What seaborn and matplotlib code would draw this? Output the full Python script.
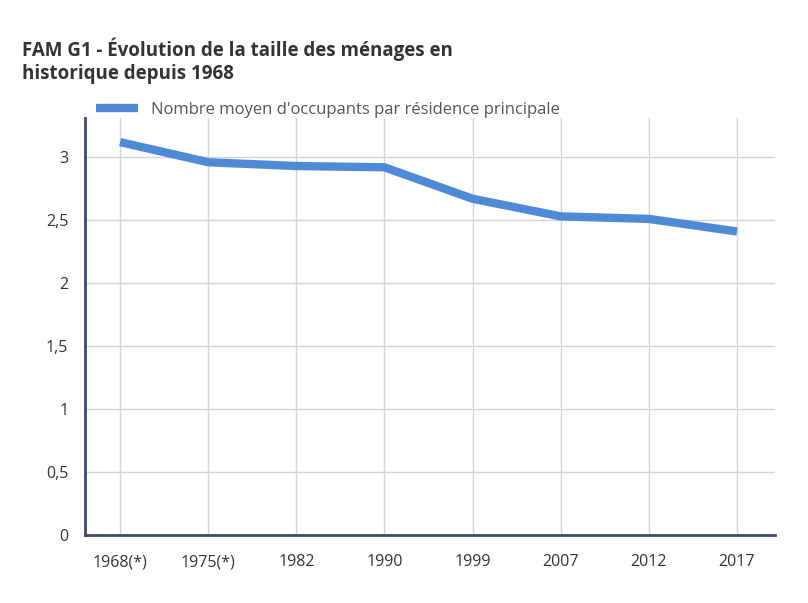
import matplotlib.pyplot as plt
import pandas as pd
import seaborn as sns

# =========================================================
# DATA
# =========================================================

years = ["1968(*)", "1975(*)", "1982", "1990", "1999", "2007", "2012", "2017"]
occupants = [3.12, 2.96, 2.93, 2.92, 2.67, 2.53, 2.51, 2.41]
y_ticks = [0, 0.5, 1, 1.5, 2, 2.5, 3]
y_tick_labels = ["0", "0,5", "1", "1,5", "2", "2,5", "3"]

series_name = "Nombre moyen d'occupants par résidence principale"
title = "FAM G1 - Évolution de la taille des ménages en\nhistorique depuis 1968"

df = pd.DataFrame({"annee": years, "occupants": occupants})

# =========================================================
# STYLE
# =========================================================

sns.set_theme(style="white")
plt.rcParams["font.family"] = ["Open Sans", "DejaVu Sans"]

line_color = "#4e8ad6"
axis_color = "#3d4a78"
grid_color = "#d4d4d4"
text_color = "#333333"

# =========================================================
# FIGURE
# =========================================================

fig = plt.figure(figsize=(8.08, 6.03), dpi=100)
ax = fig.add_axes([0.105, 0.113, 0.854, 0.691])

sns.lineplot(
    data=df,
    x="annee",
    y="occupants",
    sort=False,
    color=line_color,
    linewidth=6,
    solid_capstyle="butt",
    label=series_name,
    ax=ax,
)

ax.set_xlim(-0.4, len(years) - 1 + 0.43)
ax.set_ylim(0, 3.31)
ax.set_yticks(y_ticks)
ax.set_yticklabels(y_tick_labels)

ax.grid(True, color=grid_color, linewidth=1)
ax.set_axisbelow(True)

for side in ["top", "right"]:
    ax.spines[side].set_visible(False)
for side in ["left", "bottom"]:
    ax.spines[side].set_color(axis_color)
    ax.spines[side].set_linewidth(2)

ax.tick_params(axis="both", labelsize=11.5, colors=text_color, length=0, pad=12)
ax.tick_params(axis="x", pad=14)

ax.set_xlabel("")
ax.set_ylabel("")

ax.legend(
    loc="center left",
    bbox_to_anchor=(-0.005, 1.02),
    frameon=False,
    fontsize=12,
    handlelength=2.5,
    handletextpad=0.8,
    labelcolor="#555555",
)

fig.text(
    0.027,
    0.9,
    title,
    fontsize=13.5,
    fontweight="bold",
    color=text_color,
    va="center",
    linespacing=1.2,
)

plt.savefig("out.png", dpi=100)
plt.close()
